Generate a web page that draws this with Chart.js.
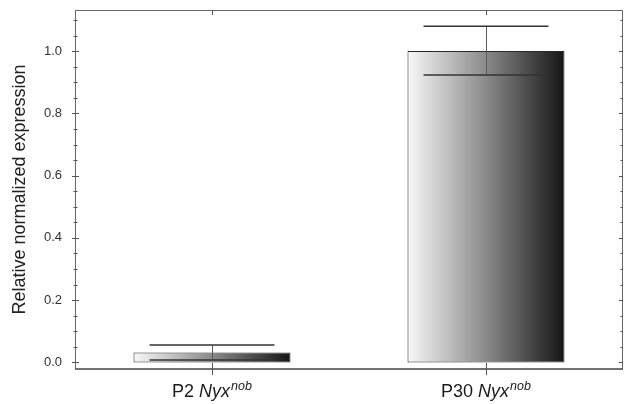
<!DOCTYPE html>
<html lang="en">
  <head>
    <meta charset="UTF-8" />
    <title>Relative normalized expression</title>
    <script src="https://cdn.jsdelivr.net/npm/chart.js"></script>
    <style>
      html, body { margin: 0; padding: 0; background: #fff; }
      canvas { display: block; }
    </style>
  </head>
  <body>
    <canvas id="chart" width="624" height="404"></canvas>

    <script>
      // Data
      const categories = ['P2 Nyx nob', 'P30 Nyx nob'];
      const labelPrefix = ['P2 ', 'P30 '];
      const labelGene = ['Nyx', 'Nyx'];
      const labelSup = ['nob', 'nob'];
      const values = [0.032, 1.0];
      const errUpper = [0.056, 1.08];
      const errLower = [0.008, 0.923];
      const yTicks = [0.0, 0.2, 0.4, 0.6, 0.8, 1.0];
      const yMinorTicks = [0.05, 0.1, 0.15, 0.25, 0.3, 0.35, 0.45, 0.5, 0.55, 0.65, 0.7, 0.75, 0.85, 0.9, 0.95, 1.05, 1.1];

      const fontFamily = "'Liberation Sans', Arial, sans-serif";
      const barPct = 0.573;
      const capPct = 0.456;

      // Horizontal light-to-dark fill for each bar
      function barGradient(ctx) {
        const chart = ctx.chart;
        const x = chart.scales.x;
        if (!chart.chartArea || !x) return '#888';
        const c = x.getPixelForValue(ctx.dataIndex);
        const half = (x.width / categories.length) * barPct / 2;
        const g = chart.ctx.createLinearGradient(c - half, 0, c + half, 0);
        g.addColorStop(0, '#f8f8f8');
        g.addColorStop(0.5, '#8a8a8a');
        g.addColorStop(1, '#141414');
        return g;
      }

      function line(ctx, x1, y1, x2, y2) {
        ctx.beginPath();
        ctx.moveTo(x1, y1);
        ctx.lineTo(x2, y2);
        ctx.stroke();
      }

      // Frame, tick marks, error bars and the styled category labels
      const decorations = {
        id: 'decorations',
        afterDatasetsDraw(chart) {
          const { ctx, chartArea: a } = chart;
          const x = chart.scales.x;
          const y = chart.scales.y;
          const catW = x.width / categories.length;
          ctx.save();

          // error bars
          values.forEach((v, i) => {
            const c = x.getPixelForValue(i);
            const yu = y.getPixelForValue(errUpper[i]);
            const yl = y.getPixelForValue(errLower[i]);
            const half = catW * capPct / 2;
            ctx.strokeStyle = '#5a5a5a';
            ctx.lineWidth = 1;
            line(ctx, c + 0.5, yu, c + 0.5, yl);
            ctx.strokeStyle = '#333';
            ctx.lineWidth = 1.5;
            line(ctx, c - half, yu, c + half, yu);
            line(ctx, c - half, yl, c + half, yl);
          });

          // frame
          ctx.strokeStyle = '#666';
          ctx.lineWidth = 1;
          line(ctx, a.left + 0.5, a.top + 0.5, a.right - 0.5, a.top + 0.5);
          line(ctx, a.left + 0.5, a.top, a.left + 0.5, a.bottom);
          line(ctx, a.right - 0.5, a.top, a.right - 0.5, a.bottom);
          ctx.strokeStyle = '#444';
          ctx.lineWidth = 1.5;
          line(ctx, a.left, a.bottom, a.right, a.bottom);

          // y ticks
          ctx.strokeStyle = '#555';
          ctx.lineWidth = 1;
          yTicks.forEach(v => {
            const py = Math.round(y.getPixelForValue(v)) + 0.5;
            line(ctx, a.left - 3, py, a.left + 4, py);
            line(ctx, a.right - 4, py, a.right, py);
          });
          yMinorTicks.forEach(v => {
            const py = Math.round(y.getPixelForValue(v)) + 0.5;
            line(ctx, a.left - 1.5, py, a.left + 2.5, py);
            line(ctx, a.right - 2.5, py, a.right, py);
          });

          // x ticks, crossing bottom axis and hanging from the top
          categories.forEach((_, i) => {
            const c = Math.round(x.getPixelForValue(i)) + 0.5;
            line(ctx, c, a.bottom - 6, c, a.bottom + 6);
            line(ctx, c, a.top, c, a.top + 5);
          });

          // category labels: plain prefix, italic gene, italic superscript allele
          ctx.fillStyle = '#1a1a1a';
          ctx.textBaseline = 'alphabetic';
          ctx.textAlign = 'left';
          const mainFont = `18px ${fontFamily}`;
          const itFont = `italic 18px ${fontFamily}`;
          const supFont = `italic 12.5px ${fontFamily}`;
          categories.forEach((_, i) => {
            ctx.font = mainFont;
            const w1 = ctx.measureText(labelPrefix[i]).width;
            ctx.font = itFont;
            const w2 = ctx.measureText(labelGene[i]).width;
            ctx.font = supFont;
            const w3 = ctx.measureText(labelSup[i]).width;
            const total = w1 + w2 + w3 + 1;
            let px = x.getPixelForValue(i) - total / 2;
            const base = a.bottom + 28;
            ctx.font = mainFont;
            ctx.fillText(labelPrefix[i], px, base);
            px += w1;
            ctx.font = itFont;
            ctx.fillText(labelGene[i], px, base);
            px += w2 + 1;
            ctx.font = supFont;
            ctx.fillText(labelSup[i], px, base - 7);
          });

          ctx.restore();
        }
      };

      new Chart(document.getElementById('chart'), {
        type: 'bar',
        data: {
          labels: categories,
          datasets: [{
            data: values,
            backgroundColor: barGradient,
            borderColor: '#2a2a2a',
            borderWidth: 1,
            borderSkipped: false,
            barPercentage: barPct,
            categoryPercentage: 1
          }]
        },
        options: {
          responsive: false,
          animation: false,
          layout: { padding: { top: 10, right: 1, bottom: 35, left: 0 } },
          plugins: {
            legend: { display: false },
            tooltip: { enabled: false }
          },
          scales: {
            x: { display: false },
            y: {
              min: -0.021,
              max: 1.132,
              afterBuildTicks: s => { s.ticks = yTicks.map(v => ({ value: v })); },
              afterFit: s => { s.width = 75; s.paddingTop = 0; s.paddingBottom = 0; },
              ticks: {
                padding: 13,
                color: '#333',
                font: { family: fontFamily, size: 13 },
                callback: v => v.toFixed(1)
              },
              grid: { display: false, drawTicks: false },
              border: { display: false },
              title: {
                display: true,
                text: 'Relative normalized expression',
                color: '#222',
                font: { family: fontFamily, size: 18 },
                padding: { top: 9, bottom: 0 }
              }
            }
          }
        },
        plugins: [decorations]
      });
    </script>
  </body>
</html>
